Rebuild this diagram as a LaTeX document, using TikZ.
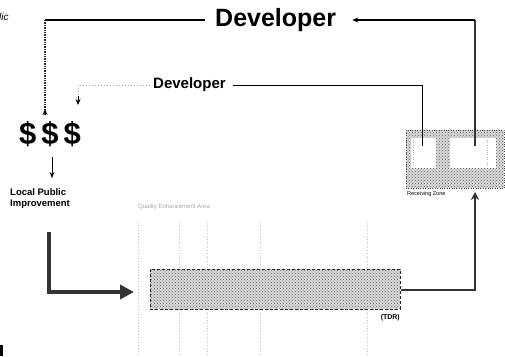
\documentclass[tikz,border=0pt]{standalone}
\usepackage{fontspec}
\setmainfont{Liberation Sans}
\usetikzlibrary{arrows.meta,patterns}
\tikzset{
  bigtxt/.style={font=\fontsize{25}{25}\selectfont\bfseries, inner sep=0pt, anchor=west},
  midtxt/.style={font=\fontsize{15}{15}\selectfont\bfseries, inner sep=0pt, anchor=west},
  smalltxt/.style={font=\fontsize{9.5}{11.5}\selectfont\bfseries, inner sep=0pt, align=left},
  tinytxt/.style={font=\fontsize{6}{6}\selectfont, text=gray!70, inner sep=0pt},
  loopline/.style={line width=1.1pt, black},
  dotline/.style={line width=1pt, gray!70, dotted},
  thinarrow/.style={-{Stealth[length=6pt,width=5pt]}},
  fatarrow/.style={line width=3.5pt, gray!40!black, -{Triangle[length=14pt,width=14pt]}},
  midarrow/.style={line width=2.2pt, gray!40!black, -{Stealth[length=8pt,width=8pt]}},
  gridline/.style={gray!45, dotted, line width=0.8pt},
  texture/.style={fill=gray!35, pattern color=gray!80!black, pattern=crosshatch dots}
}
\begin{document}
\begin{tikzpicture}[x=1pt,y=-1pt]
\useasboundingbox (0,0) rectangle (505,356);
% faint grid
\foreach \gx in {138,179,207,260,367}{
  \draw[gridline] (\gx,222) -- (\gx,356);
}
% texts
\node[font=\fontsize{10}{10}\selectfont\itshape, anchor=west, inner sep=0pt] (lic) at (-1,17) {lic};
\node[bigtxt] (dev1) at (215,20) {Developer};
\node[midtxt] (dev2) at (153,85) {Developer};
\node[font=\fontsize{31}{31}\selectfont\bfseries, inner sep=0pt] (dollars) at (50,134) {\$\hspace{5pt}\$\hspace{5pt}\$};
\node[smalltxt, anchor=north west] (lpi) at (10,188) {Local Public\\Improvement};
\node[tinytxt, anchor=west] (qlabel) at (138,207) {Quality Enhancement Area};
% bar
\fill[gray!30] (150,269) rectangle (400,309);
\node[draw=gray!30!black, densely dashed, line width=1pt, texture, minimum width=250pt, minimum height=40pt, inner sep=0pt] (bar) at (275,289) {};
\node[font=\fontsize{7}{7}\selectfont\bfseries, inner sep=0pt, anchor=east] (tbr) at (400,318) {(TDR)};
% right box
\fill[gray!30] (406,130) rectangle (504,188);
\node[draw=gray!50!black, dotted, texture, minimum width=98pt, minimum height=58pt, inner sep=0pt] (box) at (455,159) {};
\fill[white] (411,138) rectangle (436,168);
\fill[white] (450,138) rectangle (496,168);
\draw[gray!60, dotted] (413,140) -- (413,166);
\draw[gray!60, dotted] (487,140) -- (487,166);
\node[font=\fontsize{5.5}{5.5}\selectfont, inner sep=0pt, anchor=west] (zone) at (407,194) {Receiving Zone};
% coordinates
\coordinate (t1) at (475,146);
\coordinate (t2) at (422,146);
\coordinate (d1) at (45,109);
\coordinate (d2) at (78,105);
\coordinate (bartip) at (134,292);
\coordinate (lpistart) at (49,232);
\coordinate (boxtip) at (475,192);
\coordinate (c1) at (45,20);
\coordinate (c2) at (475,20);
% loop 1
\draw[line width=2.4pt, gray!40!black] (t1) -- (c2);
\draw[loopline, thinarrow] (c2) -- ([xshift=16pt]dev1.east);
\draw[loopline] ([xshift=-10pt]dev1.west) -- (c1);
\draw[line width=1.4pt, gray!30!black, densely dotted] (c1) -- ([yshift=-6pt]d1);
\draw[black, line width=1pt, thinarrow] ([yshift=-6pt]d1) -- (d1);
% loop 2
\draw[loopline, line width=0.9pt] (t2) |- ([xshift=7pt]dev2.east);
\draw[dotline] ([xshift=-3pt]dev2.west) -| (78,98);
\draw[black, line width=0.8pt, thinarrow] (78,96) -- (d2);
% $$$ -> LPI
\draw[black, line width=1pt, thinarrow] (52,157) -- (52,178);
% LPI -> bar
\draw[fatarrow] (lpistart) |- (bartip);
% bar -> box
\draw[midarrow] (bar.east |- 0,290) -| (boxtip);
% corner mark
\fill[black] (0,345) rectangle (2.5,356);
\end{tikzpicture}
\end{document}
